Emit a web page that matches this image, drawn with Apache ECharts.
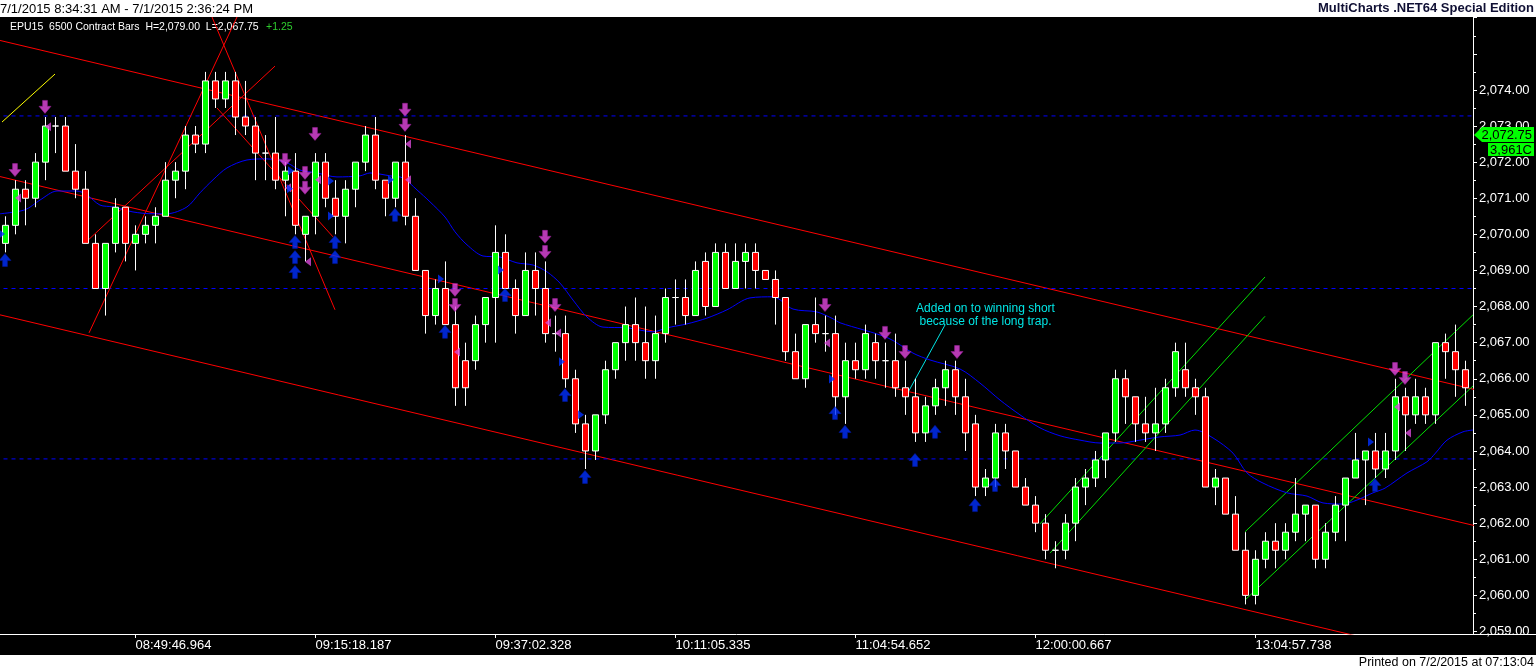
<!DOCTYPE html>
<html><head><meta charset="utf-8">
<script src="https://cdn.jsdelivr.net/npm/echarts@6/dist/echarts.min.js"></script>
<style>
html,body{margin:0;padding:0;background:#fff;}
#bg{position:absolute;left:0;top:17px;width:1536px;height:638px;background:#000;}
#c{position:absolute;left:0;top:0;width:1536px;height:670px;}
</style>
</head><body><div id="bg"></div><div id="c"></div>
<script>
// ---------- DATA ----------
const tickIndex = [13, 31, 49, 67, 85, 103, 125];
const tickLabels = ['08:49:46.964','09:15:18.187','09:37:02.328','10:11:05.335','11:04:54.652','12:00:00.667','13:04:57.738'];

const open = [2069.75,2070.25,2071.25,2071.0,2072.0,2073.0,2073.0,2071.75,2071.25,2069.75,
2068.5,2069.75,2070.75,2069.75,2070.0,2070.25,2070.5,2071.5,2071.75,2072.75,
2072.5,2074.25,2073.75,2074.25,2073.25,2073.0,2072.25,2072.25,2071.5,2071.75,
2070.0,2070.5,2072.0,2071.0,2070.5,2071.25,2072.0,2072.75,2071.5,2071.0,
2072.0,2070.5,2069.0,2067.75,2068.5,2067.5,2066.5,2066.5,2067.5,2068.25,
2069.5,2068.5,2067.75,2069.0,2068.5,2067.25,2067.25,2066.0,2064.75,2064.0,
2065.0,2066.25,2067.0,2067.5,2067.0,2066.5,2067.25,2068.25,2068.25,2067.75,
2069.25,2068.0,2069.5,2068.5,2069.25,2069.5,2069.0,2068.75,2068.25,2066.75,
2066.0,2067.5,2067.25,2067.25,2065.5,2066.5,2066.25,2067.0,2066.5,2066.5,
2065.75,2065.5,2064.5,2065.25,2065.75,2066.25,2065.5,2064.75,2063.0,2063.25,
2064.5,2064.0,2063.0,2062.5,2062.0,2061.25,2061.25,2062.0,2063.0,2063.25,
2063.75,2064.5,2066.0,2065.5,2064.75,2064.5,2064.75,2065.75,2066.25,2065.75,
2065.5,2063.0,2063.25,2062.25,2061.25,2060.0,2061.0,2061.5,2061.25,2061.75,
2062.25,2062.5,2061.0,2061.75,2062.5,2063.25,2063.75,2064.0,2063.5,2064.0,
2065.5,2065.0,2065.5,2065.0,2067.0,2066.75,2066.25];

const high = [2070.5,2071.5,2071.5,2072.25,2073.25,2073.25,2073.25,2072.5,2071.75,2070.0,
2069.75,2071.0,2070.75,2070.25,2070.5,2070.75,2072.0,2072.0,2073.0,2073.0,
2074.5,2074.5,2074.5,2074.5,2074.25,2073.25,2072.75,2073.25,2072.0,2072.25,
2070.5,2072.25,2072.25,2071.5,2071.5,2072.0,2073.0,2073.25,2071.5,2072.0,
2072.75,2071.0,2069.0,2068.75,2069.25,2068.0,2067.0,2067.75,2068.25,2070.25,
2070.0,2068.75,2069.5,2069.5,2069.25,2067.75,2067.75,2066.25,2065.0,2065.0,
2066.5,2067.0,2068.0,2068.25,2068.0,2067.75,2068.5,2068.75,2068.75,2069.25,
2069.5,2069.75,2069.75,2069.75,2069.75,2069.75,2069.0,2069.0,2068.25,2067.25,
2067.5,2068.25,2067.75,2067.75,2067.0,2067.0,2067.5,2067.25,2067.0,2067.25,
2066.5,2066.0,2065.5,2066.0,2066.5,2066.5,2066.0,2065.0,2063.5,2064.75,
2064.75,2064.0,2063.25,2062.75,2062.25,2061.5,2062.25,2063.25,2063.5,2064.0,
2064.5,2066.25,2066.25,2065.5,2065.5,2065.75,2066.0,2067.0,2067.0,2066.0,
2065.75,2063.5,2063.25,2062.75,2061.75,2061.25,2061.75,2062.0,2062.0,2063.25,
2062.5,2062.5,2062.0,2062.75,2063.25,2064.5,2064.0,2064.5,2064.5,2066.0,
2065.75,2066.0,2065.75,2067.0,2067.25,2067.5,2066.5];

const low = [2069.5,2070.0,2070.25,2070.75,2071.5,2072.25,2071.75,2071.0,2069.75,2068.5,
2067.75,2069.5,2069.25,2069.0,2069.75,2069.75,2070.5,2071.0,2071.25,2072.25,
2072.25,2073.5,2073.5,2072.75,2072.75,2071.5,2071.5,2071.25,2070.5,2070.0,
2069.25,2070.0,2070.75,2070.0,2069.75,2070.75,2071.75,2071.25,2070.5,2070.75,
2070.25,2069.0,2067.25,2067.5,2067.5,2065.25,2065.25,2066.25,2067.0,2067.0,
2068.5,2067.25,2067.75,2067.75,2067.0,2066.75,2065.75,2064.5,2063.5,2063.75,
2064.75,2066.0,2066.5,2066.5,2066.0,2066.0,2067.0,2067.5,2067.5,2067.75,
2067.75,2068.0,2068.5,2068.5,2068.5,2068.5,2068.75,2067.5,2066.5,2066.0,
2065.75,2067.0,2066.75,2065.0,2064.75,2066.0,2066.0,2066.0,2065.75,2065.5,
2065.0,2064.25,2064.25,2065.0,2065.25,2065.0,2064.0,2062.75,2062.75,2063.0,
2063.5,2063.0,2062.5,2061.75,2061.0,2060.75,2061.0,2061.5,2062.5,2063.0,
2063.25,2064.25,2064.75,2064.25,2064.25,2064.0,2064.5,2065.5,2065.5,2065.0,
2063.0,2062.5,2062.25,2061.25,2059.75,2059.75,2060.75,2060.75,2061.0,2061.5,
2061.5,2060.75,2060.75,2061.5,2061.5,2063.25,2062.5,2063.25,2063.25,2063.75,
2064.0,2064.75,2064.75,2064.75,2066.0,2065.5,2065.25];

const close = [2070.25,2071.25,2071.0,2072.0,2073.0,2073.0,2071.75,2071.25,2069.75,2068.5,
2069.75,2070.75,2069.75,2070.0,2070.25,2070.5,2071.5,2071.75,2072.75,2072.5,
2074.25,2073.75,2074.25,2073.25,2073.0,2072.25,2072.25,2071.5,2071.75,2070.25,
2070.5,2072.0,2071.0,2070.5,2071.25,2072.0,2072.75,2071.5,2071.0,2072.0,
2070.5,2069.0,2067.75,2068.5,2067.5,2065.75,2065.75,2067.5,2068.25,2069.5,
2068.5,2067.75,2069.0,2068.5,2067.25,2067.25,2066.0,2064.75,2064.0,2065.0,
2066.25,2067.0,2067.5,2067.0,2066.5,2067.25,2068.25,2068.25,2067.75,2069.0,
2068.0,2069.5,2068.5,2069.25,2069.5,2069.0,2068.75,2068.25,2066.75,2066.0,
2067.5,2067.25,2067.25,2065.5,2066.5,2066.25,2067.25,2066.5,2066.5,2065.75,
2065.5,2064.5,2065.25,2065.75,2066.25,2065.5,2064.5,2063.0,2063.25,2064.5,
2064.0,2063.0,2062.5,2062.0,2061.25,2061.25,2062.0,2063.0,2063.25,2063.75,
2064.5,2066.0,2065.5,2064.75,2064.5,2064.75,2065.75,2066.75,2065.75,2065.5,
2063.0,2063.25,2062.25,2061.25,2060.0,2061.0,2061.5,2061.25,2061.75,2062.25,
2062.5,2061.0,2061.75,2062.5,2063.25,2063.75,2064.0,2063.5,2064.0,2065.5,
2065.0,2065.5,2065.0,2067.0,2066.75,2066.25,2065.75];

// moving average ([bar, price])
const maLine = [[-0.55,2070.57],[1.95,2070.68],[3.45,2070.95],[5.15,2071.20],[7.15,2071.20],[8.15,2071.09],[9.45,2070.81],[10.75,2070.76],[12.75,2070.62],[14.75,2070.57],[16.15,2070.57],[18.15,2070.76],[19.45,2071.15],[20.75,2071.51],[22.15,2071.84],[24.15,2072.06],[26.15,2072.09],[28.15,2071.98],[29.45,2071.78],[31.15,2071.70],[33.15,2071.59],[35.45,2071.62],[36.45,2071.70],[38.45,2071.62],[39.75,2071.56],[41.15,2071.23],[42.45,2070.90],[43.95,2070.48],[44.95,2070.07],[46.15,2069.71],[47.75,2069.40],[49.45,2069.37],[51.15,2069.21],[52.75,2069.15],[54.15,2068.96],[55.45,2068.65],[56.75,2068.18],[58.15,2067.71],[59.75,2067.43],[62.15,2067.41],[64.75,2067.30],[66.15,2067.41],[68.15,2067.52],[70.15,2067.68],[72.15,2067.91],[74.45,2068.24],[76.75,2068.27],[78.75,2067.93],[81.15,2067.85],[82.75,2067.66],[83.45,2067.55],[88.25,2067.13],[90.75,2066.71],[92.45,2066.52],[95.45,2066.27],[97.45,2065.88],[99.45,2065.41],[101.45,2065.0],[103.45,2064.64],[105.45,2064.42],[107.45,2064.30],[109.45,2064.22],[111.45,2064.22],[113.45,2064.30],[115.45,2064.39],[117.45,2064.44],[118.95,2064.58],[120.75,2064.36],[122.75,2063.94],[124.15,2063.39],[125.75,2063.11],[128.15,2062.84],[130.15,2062.75],[131.75,2062.56],[133.75,2062.53],[135.15,2062.64],[136.75,2062.84],[137.95,2062.97],[140.15,2063.39],[142.15,2063.70],[143.0,2063.94],[144.15,2064.30],[145.75,2064.53],[146.75,2064.58]];

// drawing-tool lines, endpoints as [bar, price]
const channelUpper = [[-1, 2075.40], [148, 2065.63]];
const channelMiddle = [[-1, 2071.63], [148, 2061.86]];
const channelLower = [[-1, 2067.80], [148, 2058.03]];
const levelPrices = [2073.28, 2068.50, 2063.78];
const fanLine1 = [[8.35, 2067.27], [23.15, 2076.02]];
const fanLine2 = [[7.95, 2069.76], [26.95, 2074.66]];
const fanLine3 = [[20.65, 2076.02], [32.95, 2067.91]];
const fanLine4 = [[21.15, 2073.50], [32.75, 2069.93]];
const yellowLine = [[-0.35, 2073.11], [4.95, 2074.44]];
const greenUp1 = [[103.45, 2061.98], [125.95, 2068.82]];
const greenUp2 = [[104.45, 2061.17], [125.95, 2067.73]];
const greenUp3 = [[123.95, 2061.76], [146.75, 2067.77]];
const greenUp4 = [[123.95, 2059.87], [146.75, 2065.80]];
const noteLine = [[90.05, 2065.52], [93.95, 2067.49]];

// signal markers [bar, price]
const sellArrows = [[0.95,2071.78],[3.95,2073.53],[27.95,2072.06],[29.95,2071.70],[29.95,2071.29],[30.95,2072.78],[39.95,2073.45],[39.95,2073.03],[44.95,2068.46],[44.95,2068.04],[53.95,2069.93],[53.95,2069.51],[54.95,2068.04],[81.95,2068.04],[87.95,2067.27],[89.95,2066.74],[95.15,2066.74],[138.95,2066.27],[139.95,2066.02]];
const buyArrows = [[-0.05,2069.29],[28.95,2069.79],[28.95,2069.37],[28.95,2068.96],[32.95,2069.79],[32.95,2069.37],[38.95,2070.54],[43.95,2067.30],[49.95,2068.32],[55.95,2065.55],[57.95,2063.28],[82.95,2065.05],[83.95,2064.53],[90.95,2063.75],[92.95,2064.53],[96.95,2062.50],[98.95,2063.06],[136.95,2063.06]];
const exitMarks = [[4.25,2072.98],[1.25,2071.01],[31.25,2071.51],[30.25,2069.24],[40.25,2072.50],[40.25,2071.51],[54.25,2067.55],[55.25,2067.27],[82.15,2066.99],[139.15,2065.22],[140.25,2064.50],[45.15,2066.74],[28.25,2071.29]];
const entryMarks = [[-0.35,2070.01],[28.55,2071.76],[28.45,2071.26],[32.55,2071.48],[32.55,2070.51],[38.55,2071.51],[43.55,2068.76],[49.55,2069.01],[55.65,2066.47],[57.55,2065.00],[82.65,2065.99],[136.55,2064.25]];

const lastPrice = 2072.75;
const lastTagText = '2,072.75';
const volumeTagText = '3,961C';
const noteLines = ['Added on to winning short', 'because of the long trap.'];
const noteAnchor = [[98.0, 2067.93], [98.0, 2067.57]];

// ---------- CHART ----------
const FONT = '"Liberation Sans", Arial, sans-serif';
const candles = open.map((o, i) => [i, o, close[i], low[i], high[i]]);
const fmt = v => v.toLocaleString('en-US', {minimumFractionDigits: 2, maximumFractionDigits: 2});

function seg(data, color, width, extra) {
  return Object.assign({
    type: 'line', data: data, symbol: 'none', silent: true, animation: false,
    lineStyle: {color: color, width: width || 1}, z: 3
  }, extra || {});
}

const downArrow = 'path://M3,0 L7,0 L7,5 L10,5 L5,11 L0,5 L3,5 Z';
const upArrow = 'path://M5,0 L10,6 L7,6 L7,11 L3,11 L3,6 L0,6 Z';
const leftTri = 'path://M6,0 L6,8 L0,4 Z';
const rightTri = 'path://M0,0 L6,4 L0,8 Z';

const chart = echarts.init(document.getElementById('c'), null, {renderer: 'canvas'});

const series = [];
series.push(seg(channelUpper, '#ff0000'));
series.push(seg(channelMiddle, '#ff0000'));
series.push(seg(channelLower, '#ff0000'));
levelPrices.forEach(p => series.push(seg([[-1, p], [148, p]], '#0000ff', 1, {lineStyle: {color: '#0000ff', width: 1, type: [4, 4]}})));
[fanLine1, fanLine2, fanLine3, fanLine4].forEach(l => series.push(seg(l, '#ff0000')));
series.push(seg(yellowLine, '#ffff00'));
[greenUp1, greenUp2, greenUp3, greenUp4].forEach(l => series.push(seg(l, '#00e000')));
series.push(seg(noteLine, '#00e5e5'));
series.push(seg(maLine, '#0000ff', 1, {smooth: 0.3, z: 4}));
series.push({
  type: 'candlestick', data: candles, encode: {x: 0, y: [1, 2, 3, 4]},
  barWidth: 6, z: 5, animation: false,
  itemStyle: {color: '#00ff00', color0: '#ff0000', borderColor: '#ffffff', borderColor0: '#ffffff', borderColorDoji: '#ffffff', borderWidth: 1}
});
series.push({type: 'scatter', data: sellArrows, symbol: downArrow, symbolSize: [12, 13], z: 6, silent: true,
  itemStyle: {color: '#e448e0', borderColor: '#9a209a', borderWidth: 0.7}});
series.push({type: 'scatter', data: buyArrows, symbol: upArrow, symbolSize: [12, 13], z: 6, silent: true,
  itemStyle: {color: '#0030ff', borderColor: '#0018a0', borderWidth: 0.7}});
series.push({type: 'scatter', data: exitMarks, symbol: leftTri, symbolSize: [6, 9], z: 6, silent: true,
  itemStyle: {color: '#d848d8'}});
series.push({type: 'scatter', data: entryMarks, symbol: rightTri, symbolSize: [6, 9], z: 6, silent: true,
  itemStyle: {color: '#0030ff'}});

const option = {
  backgroundColor: 'transparent',
  animation: false,
  grid: {left: 0, right: 63, top: 17, bottom: 36, containLabel: false},
  xAxis: {
    type: 'value', min: -0.55, max: 146.75,
    axisLine: {show: true, onZero: false, lineStyle: {color: '#ffffff', width: 1}},
    axisTick: {show: true, customValues: tickIndex, length: 4, lineStyle: {color: '#ffffff'}},
    axisLabel: {customValues: tickIndex, formatter: v => tickLabels[tickIndex.indexOf(Math.round(v))] || '',
      color: '#ffffff', fontSize: 13, fontFamily: FONT, align: 'left', margin: 5},
    splitLine: {show: false}
  },
  yAxis: {
    type: 'value', position: 'right', min: 2058.93, max: 2076.02, splitNumber: 17, scale: true,
    axisLine: {show: true, onZero: false, lineStyle: {color: '#ffffff', width: 1}},
    axisTick: {show: true, inside: false, length: 4, lineStyle: {color: '#ffffff'}},
    minorTick: {show: true, splitNumber: 2, length: 3, lineStyle: {color: '#ffffff'}},
    axisLabel: {color: '#ffffff', fontSize: 13, fontFamily: FONT, margin: 6,
      formatter: v => (v > 2074.5 ? '' : fmt(v))},
    splitLine: {show: false}
  },
  series: series
};
chart.setOption(option);

// overlay texts and price tags positioned via the chart's own scales
const ty = chart.convertToPixel({yAxisIndex: 0}, lastPrice);
const gx = chart.convertToPixel({xAxisIndex: 0}, 146.75);
const n1 = chart.convertToPixel({xAxisIndex: 0, yAxisIndex: 0}, noteAnchor[0]);
const n2 = chart.convertToPixel({xAxisIndex: 0, yAxisIndex: 0}, noteAnchor[1]);
const gy = chart.convertToPixel({yAxisIndex: 0}, 2058.93);

chart.setOption({
  graphic: [
    {type: 'text', id: 'hdr', style: {x: 0, y: 9, text: '7/1/2015 8:34:31 AM - 7/1/2015 2:36:24 PM', fill: '#000000', fontSize: 13, fontFamily: FONT, verticalAlign: 'middle'}},
    {type: 'text', id: 'brand', style: {x: 1534, y: 8, text: 'MultiCharts .NET64 Special Edition', fill: '#101034', fontSize: 13, fontWeight: 'bold', fontFamily: FONT, align: 'right', verticalAlign: 'middle'}},
    {type: 'text', id: 'info', style: {x: 10, y: 27, text: 'EPU15  6500 Contract Bars  H=2,079.00  L=2,067.75', fill: '#ffffff', fontSize: 10.5, fontFamily: FONT, verticalAlign: 'middle'}},
    {type: 'text', id: 'chg', style: {x: 266, y: 27, text: '+1.25', fill: '#2ecc2e', fontSize: 10.5, fontFamily: FONT, verticalAlign: 'middle'}},
    {type: 'text', id: 'foot', style: {x: 1534, y: 663, text: 'Printed on 7/2/2015 at 07:13:04', fill: '#000000', fontSize: 12.5, fontFamily: FONT, align: 'right', verticalAlign: 'middle'}},
    {type: 'line', id: 'baseext', shape: {x1: gx, y1: gy + 0.5, x2: 1536, y2: gy + 0.5}, style: {stroke: '#ffffff', lineWidth: 1}},
    {type: 'polygon', id: 'tag1', z: 10, shape: {points: [[gx + 1, ty], [gx + 9, ty - 8], [1534, ty - 8], [1534, ty + 7], [gx + 9, ty + 7]]}, style: {fill: '#00ff00'}},
    {type: 'text', id: 'tag1t', z: 11, style: {x: 1532, y: ty, text: lastTagText, fill: '#000000', fontSize: 13, fontFamily: FONT, align: 'right', verticalAlign: 'middle'}},
    {type: 'rect', id: 'tag2', z: 10, shape: {x: gx + 15, y: ty + 8, width: 1534 - gx - 15, height: 13}, style: {fill: '#00ff00'}},
    {type: 'text', id: 'tag2t', z: 11, style: {x: 1532, y: ty + 15, text: volumeTagText, fill: '#000000', fontSize: 13, fontFamily: FONT, align: 'right', verticalAlign: 'middle'}},
    {type: 'text', id: 'note1', z: 11, style: {x: n1[0], y: n1[1], text: noteLines[0], fill: '#00e5e5', fontSize: 12, fontFamily: FONT, align: 'center', verticalAlign: 'middle'}},
    {type: 'text', id: 'note2', z: 11, style: {x: n2[0], y: n2[1], text: noteLines[1], fill: '#00e5e5', fontSize: 12, fontFamily: FONT, align: 'center', verticalAlign: 'middle'}}
  ]
});
</script></body></html>
